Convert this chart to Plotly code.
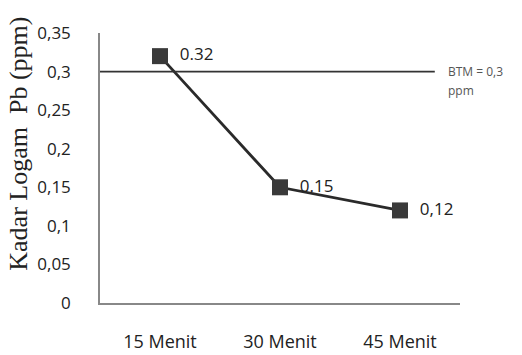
import plotly.graph_objects as go

categories = ["15 Menit", "30 Menit", "45 Menit"]
values = [0.32, 0.15, 0.12]
value_labels = ["0.32", "0.15", "0,12"]
btm_value = 0.3
tick_vals = [0, 0.05, 0.1, 0.15, 0.2, 0.25, 0.3, 0.35]
tick_text = ["0", "0,05", "0,1", "0,15", "0,2", "0,25", "0,3", "0,35"]

fig = go.Figure()
fig.add_trace(go.Scatter(
    x=categories, y=values, mode="lines+markers+text",
    text=["  " + t for t in value_labels], textposition="middle right",
    textfont=dict(family="Open Sans", size=17, color="#222"),
    line=dict(color="#2a2a2a", width=2.8),
    marker=dict(symbol="square", size=16, color="#3a3a3a"),
    showlegend=False, cliponaxis=False,
))

fig.add_shape(type="line", xref="paper", yref="y", x0=0, x1=0.93,
              y0=btm_value, y1=btm_value, line=dict(color="#333", width=1.8))

fig.add_annotation(xref="paper", yref="y", x=0.96, y=btm_value, text="BTM = 0,3",
                   showarrow=False, xanchor="left", yanchor="middle",
                   font=dict(family="Open Sans", size=12, color="#555"))
fig.add_annotation(xref="paper", yref="y", x=0.96, y=btm_value, yshift=-19, text="ppm",
                   showarrow=False, xanchor="left", yanchor="middle",
                   font=dict(family="Open Sans", size=12, color="#555"))

fig.add_annotation(xref="paper", yref="paper", x=-0.225, y=0.59,
                   text="Kadar Logam  Pb (ppm)", textangle=-90, showarrow=False,
                   xanchor="center", yanchor="middle",
                   font=dict(family="Liberation Serif", size=26, color="#222"))

fig.update_layout(
    width=522, height=355,
    margin=dict(l=100, r=62, t=33, b=52),
    paper_bgcolor="white", plot_bgcolor="white",
    xaxis=dict(type="category", range=[-0.5, 2.5], showgrid=False, automargin=False,
               showline=True, linecolor="#888", linewidth=1.5, ticks="",
               ticklabelstandoff=22,
               tickfont=dict(family="Open Sans", size=18, color="#222")),
    yaxis=dict(range=[0, 0.35], tickvals=tick_vals, ticktext=tick_text, automargin=False,
               showgrid=False, zeroline=False, showline=True, linecolor="#888",
               linewidth=1.5, ticks="", ticklabelstandoff=24,
               tickfont=dict(family="Open Sans", size=17, color="#222")),
)

fig.write_html("out.html")
